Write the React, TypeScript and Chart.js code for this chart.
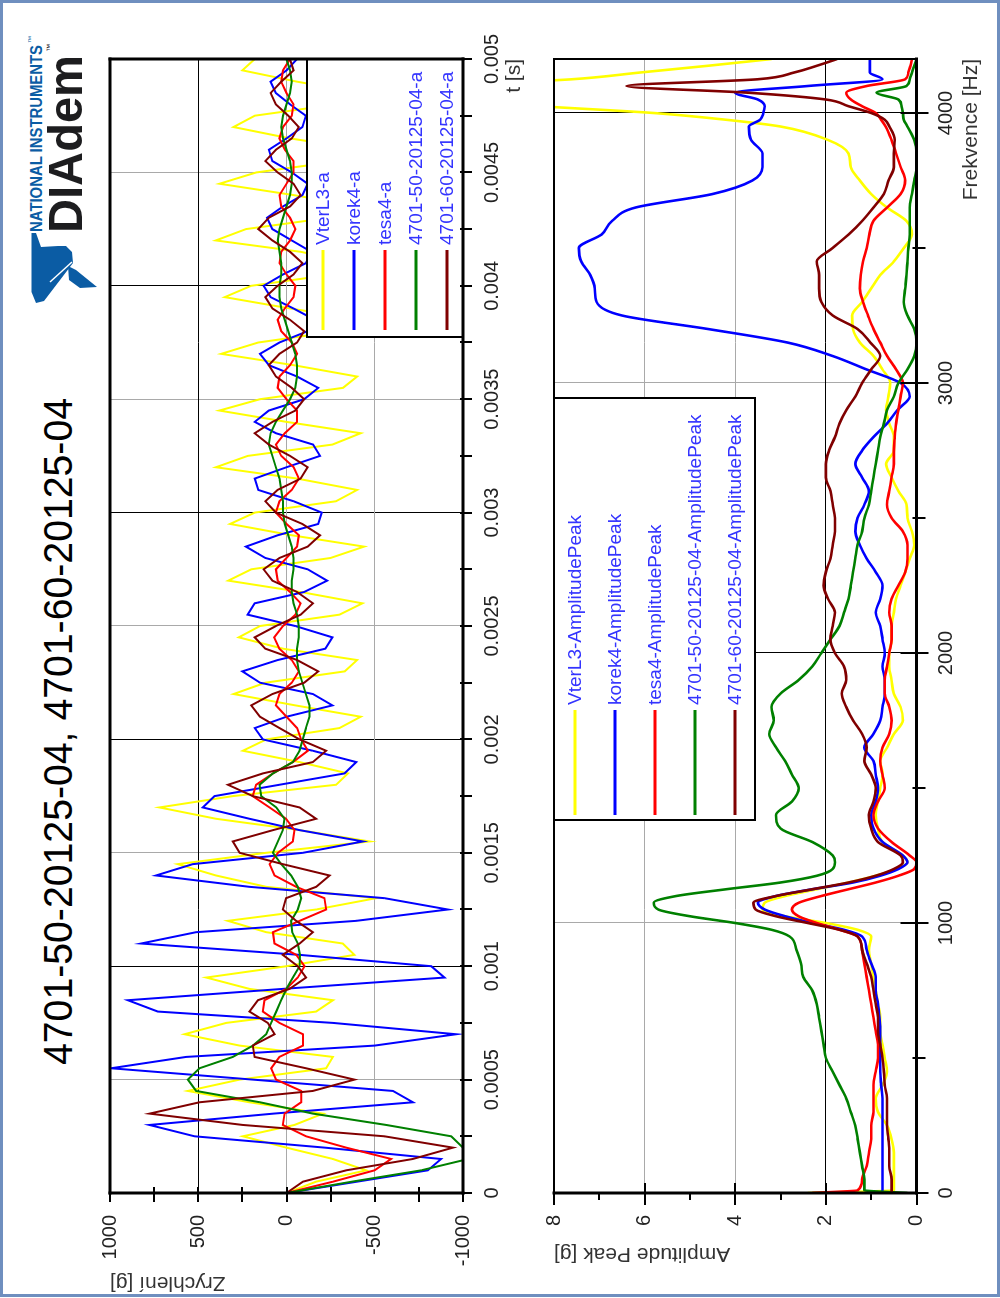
import React, { useEffect, useRef } from 'react';
import { Chart, registerables } from 'chart.js';

Chart.register(...registerables);

const FONT = "'Liberation Sans', Arial, Helvetica, sans-serif";

// ---------------- time signals (upper chart), one value per sample ----------------
const SAMPLE_STEP_S = 0.00005;
const TIME_MAX_S = 0.005;
const TIME_TICK_STEP_S = 0.00025;
const TIME_TICKS_S = Array.from({ length: 21 }, (_, k) => Number((k * TIME_TICK_STEP_S).toFixed(5)));
const ACC_TICKS_G = [-1000, -750, -500, -250, 0, 250, 500, 750, 1000];

const VTERL3_A = [
  0, -168, -451, -263, 0, 247, -45, -206, 210, 559, 266, -225, -263, 266, 578, 342, -168, -263, 210, 455,
  0, -385, -319, 115, 332, -168, -508, 115, 399, 616, 115, -470, -74, 399, 720, 304, -281, -348, -74, 247,
  115, -300, -420, -50, 300, 120, -330, -400, 20, 270, 150, -300, -430, -80, 330, 200, -250, -440, -30, 320,
  180, -280, -400, -60, 400, 220, -260, -420, 0, 380, 150, -320, -400, -40, 370, 160, -290, -430, -20, 350,
  200, -260, -380, -80, 400, 230, -240, -400, -40, 380, 170, -300, -430, -20, 300, 180, -280, -420, -60, 250,
  180,
];
const KOREK4_A = [
  0, -400, -801, -876, -217, 521, 776, 74, -716, -603, 191, 994, 569, -499, -961, -263, 729, 899, 21, -895,
  -820, -74, 824, 512, -395, -914, -555, 210, 739, 531, -93, -433, -74, 210, 474, 408, 40, -329, -395, -149,
  134, 180, 0, -260, -150, 150, 250, 50, -220, -260, -50, 220, 180, -100, -230, -120, 120, 230, 50, -180,
  -200, -40, 160, 180, 0, -190, -150, 60, 180, 100, -100, -180, -60, 100, 150, 40, -120, -160, -40, 90,
  130, 20, -110, -140, -30, 80, 110, 20, -90, -120, -30, 80, 100, 0, -90, -110, -20, 60, 90, 0,
  -60,
];
const TESA4_A = [
  0, -263, -499, -593, -338, -111, 21, 11, -83, -83, 59, 87, 40, -93, -93, 40, 134, 125, 2, -64,
  -102, -55, 68, 77, -74, -225, -215, -55, 68, 96, 49, -36, -45, 2, 96, 191, 172, 77, -36, -121,
  -83, -60, 0, 60, 40, -30, -70, -30, 40, 70, 20, -50, -80, -20, 50, 60, 0, -60, -70, 0,
  60, 40, -30, -70, -40, 30, 60, 10, -60, -60, 0, 50, 40, -20, -60, -30, 30, 50, 10, -40,
  -50, 0, 40, 30, -20, -50, -20, 30, 40, 0, -40, -40, 10, 40, 20, -30, -40, 0, 30, 20,
  -20,
];
const N4701_50_A = [
  0, -370, -763, -1030, -1000, -933, -565, -150, 150, 512, 559, 493, 304, 190, 115, 87, 58, 30, 0, -36,
  -74, -77, -64, -32, -26, -64, -83, -64, -26, 30, 77, 49, 21, 11, 58, 143, 153, 77, -36, -74,
  -92, -110, -130, -130, -110, -90, -70, -60, -60, -70, -70, -60, -40, -30, -30, -40, -40, -30, -10, 10,
  20, 20, 30, 40, 60, 80, 100, 90, 60, 20, -20, -50, -60, -60, -50, -30, -10, 10, 30, 40,
  40, 30, 30, 40, 50, 40, 20, 0, -20, -30, -30, -20, 0, 20, 30, 20, 0, -20, -30, -20,
  0,
];
const N4701_60_A = [
  0, -93, -338, -716, -943, -555, 247, 776, 493, -149, -385, -111, 181, 191, 68, 106, 210, 162, -17, -111,
  -64, 21, -74, -149, -55, 21, 2, -168, -244, 21, 266, 304, 77, -168, -74, 191, 332, 134, -149, -225,
  -74, 40, 150, 200, 80, -100, -180, -60, 120, 180, 60, -80, -150, -60, 80, 130, 40, -120, -190, -90,
  60, 120, 50, -80, -120, -20, 100, 180, 80, -50, -100, -30, 60, 100, 40, -60, -100, -20, 80, 120,
  50, -40, -90, -20, 80, 160, 100, -20, -80, -40, 50, 120, 60, -30, -70, -10, 60, 90, 30, -40,
  -20,
];

// ---------------- amplitude spectra (lower chart) ----------------
const FREQ_MAX_HZ = 4200;
const FREQ_TICKS_HZ = [0, 500, 1000, 1500, 2000, 2500, 3000, 3500, 4000];
const PEAK_TICKS_G = [0, 1, 2, 3, 4, 5, 6, 7, 8];
const FREQ_HZ = [
  0, 10, 50, 100, 150, 200, 250, 300, 350, 400, 450, 500, 550, 600, 650, 700, 750, 800, 850, 900, 950,
  975, 1000, 1025, 1050, 1075, 1100, 1125, 1150, 1175, 1200, 1225, 1250,
  1300, 1350, 1400, 1450, 1500, 1550, 1600, 1650, 1700, 1750,
  1800, 1850, 1900, 1950, 2000, 2050, 2100, 2150, 2200, 2250,
  2300, 2350, 2400, 2450, 2500, 2550, 2600, 2650, 2700, 2750,
  2800, 2850, 2900, 2950, 3000, 3050, 3100, 3150, 3200, 3250,
  3300, 3350, 3400, 3450, 3500, 3550, 3600, 3650, 3700, 3750,
  3800, 3850, 3900, 3950,
  3975, 4000, 4025, 4050, 4075, 4100, 4125, 4150, 4175, 4200,
];
const VTERL3_PEAK = [
  2.4, 0.5, 0.5, 0.5, 0.5, 0.55, 0.65, 0.85, 0.9, 0.75, 0.65, 0.7, 0.75, 0.8, 0.8, 0.85, 0.9, 0.95, 1.0, 1.05, 1.0,
  1.3, 2.0, 2.9, 3.4, 3.35, 2.9, 2.2, 1.5, 0.9, 0.45, 0.2, 0.3,
  0.75, 0.85, 0.9, 0.85, 0.8, 0.75, 0.8, 0.65, 0.5, 0.3,
  0.35, 0.5, 0.55, 0.6, 0.6, 0.55, 0.55, 0.5, 0.45, 0.35,
  0.25, 0.15, 0.05, 0.1, 0.2, 0.22, 0.4, 0.55, 0.67, 0.5,
  0.5, 0.6, 0.67, 0.62, 0.58, 0.75, 0.95, 1.25, 1.4, 1.42,
  1.2, 1.0, 0.8, 0.5, 0.28, 0.1, 0.22, 0.65, 1.0, 1.25,
  1.45, 1.5, 1.95, 3.0,
  4.2, 5.8, 8.3, 10.5, 11.5, 10.5, 7.6, 6.1, 4.6, 3.2,
];
const KOREK4_PEAK = [
  0.8, 0.75, 0.75, 0.75, 0.75, 0.75, 0.75, 0.75, 0.75, 0.78, 0.8, 0.8, 0.8, 0.8, 0.82, 0.85, 0.9, 0.9, 1.0, 1.1, 1.2,
  1.6, 2.3, 2.9, 3.35, 3.5, 3.1, 2.3, 1.4, 0.8, 0.4, 0.2, 0.3,
  0.75, 0.95, 1.0, 0.9, 0.85, 0.9, 0.95, 1.15, 0.95, 0.8,
  0.75, 0.7, 0.7, 0.75, 0.7, 0.75, 0.8, 0.9, 0.8, 0.75,
  0.9, 1.1, 1.25, 1.35, 1.3, 1.15, 1.05, 1.2, 1.35, 1.2,
  0.95, 0.65, 0.42, 0.15, 0.35, 1.1, 1.85, 2.85, 4.6, 6.5,
  7.06, 7.1, 7.2, 7.4, 7.45, 6.95, 6.72, 6.2, 4.5, 3.62,
  3.4, 3.4, 3.65, 3.7,
  3.45, 3.38, 3.35, 3.5, 4.0, 2.4, 0.75, 1.03, 1.03, 1.03,
];
const TESA4_PEAK = [
  2.3, 1.3, 1.2, 1.1, 1.05, 1.0, 1.0, 0.95, 0.95, 0.95, 0.9, 0.85, 0.85, 0.9, 0.95, 1.0, 1.05, 1.1, 1.15, 1.2, 1.3,
  1.7, 2.2, 2.6, 2.75, 2.6, 2.1, 1.5, 0.9, 0.4, 0.05, 0.0, 0.15,
  0.55, 0.85, 0.95, 0.85, 0.7, 0.75, 0.8, 0.75, 0.6, 0.55,
  0.6, 0.7, 0.7, 0.65, 0.6, 0.55, 0.55, 0.6, 0.55, 0.4,
  0.25, 0.2, 0.2, 0.3, 0.55, 0.65, 0.6, 0.55, 0.5, 0.5,
  0.48, 0.45, 0.4, 0.35, 0.3, 0.45, 0.65, 0.8, 0.95, 1.07,
  1.18, 1.25, 1.23, 1.18, 1.1, 1.04, 0.95, 0.65, 0.35, 0.25,
  0.35, 0.45, 0.55, 0.68,
  0.78, 0.9, 1.2, 1.45, 1.55, 1.1, 0.25, 0.18, 0.13, 0.1,
];
const N4701_50_PEAK = [
  0.2, 1.15, 1.15, 1.2, 1.25, 1.3, 1.35, 1.45, 1.55, 1.7, 1.85, 2.0, 2.05, 2.1, 2.15, 2.2, 2.3, 2.5, 2.55, 2.65, 2.8,
  3.2, 4.0, 5.0, 5.7, 5.8, 5.3, 4.2, 3.0, 2.2, 1.85, 1.8, 1.85,
  2.3, 3.0, 3.1, 2.75, 2.6, 2.75, 2.9, 3.1, 3.25, 3.15,
  3.2, 3.0, 2.6, 2.3, 2.1, 1.9, 1.7, 1.6, 1.5, 1.45,
  1.4, 1.35, 1.3, 1.2, 1.15, 1.05, 1.0, 0.95, 0.9, 0.85,
  0.8, 0.72, 0.65, 0.5, 0.4, 0.2, 0.05, 0.0, 0.05, 0.2,
  0.28, 0.25, 0.22, 0.2, 0.18, 0.15, 0.15, 0.15, 0.1, 0.05,
  0.0, 0.0, 0.05, 0.2,
  0.28, 0.3, 0.33, 0.4, 0.88, 0.22, 0.15, 0.1, 0.05, 0.0,
];
const N4701_60_PEAK = [
  0.55, 0.55, 0.55, 0.6, 0.6, 0.62, 0.65, 0.65, 0.65, 0.7, 0.72, 0.75, 0.8, 0.85, 0.85, 0.9, 0.95, 1.0, 1.1, 1.2, 1.3,
  1.7, 2.4, 3.1, 3.55, 3.6, 3.1, 2.3, 1.5, 0.9, 0.5, 0.3, 0.35,
  0.85, 1.0, 1.05, 0.95, 0.9, 1.0, 1.15, 1.1, 1.2, 1.4,
  1.55, 1.65, 1.55, 1.6, 1.8, 1.9, 1.85, 1.8, 1.95, 2.05,
  2.0, 1.9, 1.85, 1.8, 1.8, 1.85, 1.9, 2.0, 2.0, 1.93,
  1.8, 1.7, 1.55, 1.35, 1.2, 1.0, 0.8, 1.02, 1.3, 1.85,
  2.1, 2.15, 2.15, 2.2, 1.85, 1.5, 1.2, 0.95, 0.72, 0.62,
  0.5, 0.5, 0.48, 0.6,
  0.7, 1.0, 1.5, 2.0, 3.7, 6.4, 3.5, 2.7, 2.2, 1.75,
];

const SERIES_COLORS = ['#ffff00', '#0000ff', '#ff0000', '#008000', '#800000'];
const TIME_SERIES_NAMES = ['VterL3-a', 'korek4-a', 'tesa4-a', '4701-50-20125-04-a', '4701-60-20125-04-a'];
const PEAK_SERIES_NAMES = [
  'VterL3-AmplitudePeak',
  'korek4-AmplitudePeak',
  'tesa4-AmplitudePeak',
  '4701-50-20125-04-AmplitudePeak',
  '4701-60-20125-04-AmplitudePeak',
];
const PAGE_TITLE = '4701-50-20125-04, 4701-60-20125-04';

const GRID_BLACK = '#000000';
const GRID_GRAY = '#a9a9a9';
const NONE = 'rgba(0,0,0,0)';
const LEGEND_TEXT = '#3434ff';
const TICK_TEXT = '#222222';

// ---------------- decoration plugin: crossing ticks, frame, legend box ----------------
function makeDecor(o: any) {
  return {
    id: 'decor',
    afterDraw(chart: any) {
      const ctx = chart.ctx;
      const a = chart.chartArea;
      const xs = chart.scales.x;
      const ys = chart.scales.y;
      ctx.save();

      // legend box
      const L = o.legend;
      ctx.fillStyle = '#ffffff';
      ctx.fillRect(L.left, L.top, L.width, L.height);
      ctx.strokeStyle = '#000';
      ctx.lineWidth = 2;
      ctx.strokeRect(L.left, L.top, L.width, L.height);
      ctx.font = `${L.fontSize}px ${FONT}`;
      ctx.textBaseline = 'middle';
      ctx.textAlign = 'left';
      L.labels.forEach((lab: string, i: number) => {
        const y = L.firstRow + i * L.rowStep;
        ctx.strokeStyle = L.colors[i];
        ctx.lineWidth = 3;
        ctx.lineCap = 'butt';
        ctx.beginPath();
        ctx.moveTo(L.lineFrom, y);
        ctx.lineTo(L.lineTo, y);
        ctx.stroke();
        ctx.fillStyle = LEGEND_TEXT;
        ctx.fillText(lab, L.textX, y + 0.5);
      });

      // ticks
      ctx.strokeStyle = '#000';
      ctx.lineWidth = 2;
      ctx.lineCap = 'butt';
      for (const t of xs.ticks) {
        const s = o.xTick(t.value);
        if (!s) continue;
        const p = Math.round(xs.getPixelForValue(t.value));
        ctx.beginPath();
        ctx.moveTo(p, a.bottom - s.inner);
        ctx.lineTo(p, a.bottom + s.outer);
        ctx.stroke();
      }
      for (const t of ys.ticks) {
        const s = o.yTick(t.value);
        if (!s) continue;
        const p = Math.round(ys.getPixelForValue(t.value));
        ctx.beginPath();
        ctx.moveTo(a.left - s.outer, p);
        ctx.lineTo(a.left + s.inner, p);
        ctx.stroke();
      }

      // frame
      const [ft, fr, fb, fl] = o.frame;
      ctx.lineCap = 'square';
      const seg = (w: number, x1: number, y1: number, x2: number, y2: number) => {
        ctx.lineWidth = w;
        ctx.beginPath();
        ctx.moveTo(x1, y1);
        ctx.lineTo(x2, y2);
        ctx.stroke();
      };
      seg(ft, a.left, a.top, a.right, a.top);
      seg(fr, a.right, a.top, a.right, a.bottom);
      seg(fb, a.left, a.bottom, a.right, a.bottom);
      seg(fl, a.left, a.top, a.left, a.bottom);
      ctx.restore();
    },
  };
}

function tickFont(size: number) {
  return { size, family: FONT };
}

function fixedTicks(values: number[]) {
  return (s: any) => {
    s.ticks = values.map((value) => ({ value }));
  };
}

function timeChartConfig(): any {
  const series = [VTERL3_A, KOREK4_A, TESA4_A, N4701_50_A, N4701_60_A];
  return {
    type: 'line',
    data: {
      datasets: series.map((vals, i) => ({
        label: TIME_SERIES_NAMES[i],
        data: vals.map((y, k) => ({ x: k * SAMPLE_STEP_S, y })),
        borderColor: SERIES_COLORS[i],
        backgroundColor: SERIES_COLORS[i],
        borderWidth: 2,
        pointRadius: 0,
        tension: 0,
        fill: false,
        order: series.length - 1 - i,
      })),
    },
    options: {
      animation: false,
      responsive: false,
      devicePixelRatio: 1,
      events: [],
      layout: { padding: { top: 110, right: 59, bottom: 0, left: 0 } },
      plugins: { legend: { display: false }, tooltip: { enabled: false } },
      scales: {
        x: {
          type: 'linear',
          position: 'bottom',
          min: 0,
          max: TIME_MAX_S,
          afterBuildTicks: fixedTicks(TIME_TICKS_S),
          afterFit: (s: any) => {
            s.height = 67;
          },
          border: { display: false },
          grid: {
            drawTicks: false,
            lineWidth: 1,
            color: (c: any) => {
              if (!c.tick) return NONE;
              const k = Math.round(c.tick.value / TIME_TICK_STEP_S);
              if (k <= 0 || k >= 20) return NONE;
              if (k % 4 === 0) return GRID_BLACK;
              if (k % 2 === 0) return GRID_GRAY;
              return NONE;
            },
          },
          ticks: {
            autoSkip: false,
            maxRotation: 0,
            minRotation: 0,
            padding: 17,
            color: TICK_TEXT,
            font: tickFont(20),
            callback: (v: number) => {
              const k = Math.round(v / TIME_TICK_STEP_S);
              if (k % 2 !== 0) return '';
              return String(Number((k * TIME_TICK_STEP_S).toFixed(5)));
            },
          },
          title: {
            display: true,
            text: 't [s]',
            align: 'end',
            color: '#333',
            font: tickFont(21),
            padding: { top: 0, bottom: 3 },
          },
        },
        y: {
          type: 'linear',
          position: 'left',
          min: -1000,
          max: 1000,
          afterBuildTicks: fixedTicks(ACC_TICKS_G),
          afterFit: (s: any) => {
            s.width = 105;
          },
          border: { display: false },
          grid: {
            drawTicks: false,
            lineWidth: 1,
            color: (c: any) => {
              if (!c.tick) return NONE;
              const v = c.tick.value;
              if (v === 500) return GRID_BLACK;
              if (v === 0 || v === -500) return GRID_GRAY;
              return NONE;
            },
          },
          ticks: {
            autoSkip: false,
            padding: 22,
            color: TICK_TEXT,
            font: tickFont(20),
            callback: (v: number) => (v % 500 === 0 ? String(v) : ''),
          },
          title: {
            display: true,
            text: 'Zrychlení [g]',
            align: 'end',
            color: '#333',
            font: tickFont(21),
            padding: { top: 3, bottom: 0 },
          },
        },
      },
    },
    plugins: [
      makeDecor({
        frame: [3, 3, 3, 3],
        xTick: () => ({ inner: 3, outer: 9 }),
        yTick: () => ({ inner: 6, outer: 9 }),
        legend: {
          left: 961,
          top: 307,
          width: 278,
          height: 156,
          lineFrom: 968,
          lineTo: 1048,
          textX: 1053,
          firstRow: 323,
          rowStep: 31,
          fontSize: 19,
          labels: TIME_SERIES_NAMES,
          colors: SERIES_COLORS,
        },
      }),
    ],
  };
}

// lower canvas starts at v = 500 of the (unrotated) page
const BOT_TOP = 500;

function spectrumChartConfig(): any {
  const series = [VTERL3_PEAK, KOREK4_PEAK, TESA4_PEAK, N4701_50_PEAK, N4701_60_PEAK];
  const areaTop = 554 - BOT_TOP;
  return {
    type: 'line',
    data: {
      datasets: series.map((vals, i) => ({
        label: PEAK_SERIES_NAMES[i],
        data: FREQ_HZ.map((f, k) => ({ x: f, y: vals[k] })),
        borderColor: SERIES_COLORS[i],
        backgroundColor: SERIES_COLORS[i],
        borderWidth: 2.6,
        pointRadius: 0,
        cubicInterpolationMode: 'monotone',
        fill: false,
        order: series.length - 1 - i,
      })),
    },
    options: {
      animation: false,
      responsive: false,
      devicePixelRatio: 1,
      events: [],
      layout: { padding: { top: areaTop, right: 59, bottom: 0, left: 0 } },
      plugins: { legend: { display: false }, tooltip: { enabled: false } },
      scales: {
        x: {
          type: 'linear',
          position: 'bottom',
          min: 0,
          max: FREQ_MAX_HZ,
          afterBuildTicks: fixedTicks(FREQ_TICKS_HZ),
          afterFit: (s: any) => {
            s.height = 83.5;
          },
          border: { display: false },
          grid: {
            drawTicks: false,
            lineWidth: 1,
            color: (c: any) => {
              if (!c.tick) return NONE;
              const v = c.tick.value;
              if (v === 2000 || v === 4000) return GRID_BLACK;
              if (v === 1000 || v === 3000) return GRID_GRAY;
              return NONE;
            },
          },
          ticks: {
            autoSkip: false,
            maxRotation: 0,
            minRotation: 0,
            padding: 18,
            color: TICK_TEXT,
            font: tickFont(20),
            callback: (v: number) => (v % 1000 === 0 ? String(v) : ''),
          },
          title: {
            display: true,
            text: 'Frekvence [Hz]',
            align: 'end',
            color: '#333',
            font: tickFont(21),
            padding: { top: 0, bottom: 16 },
          },
        },
        y: {
          type: 'linear',
          position: 'left',
          min: 0,
          max: 8,
          afterBuildTicks: fixedTicks(PEAK_TICKS_G),
          afterFit: (s: any) => {
            s.width = 105;
          },
          border: { display: false },
          grid: {
            drawTicks: false,
            lineWidth: 1,
            color: (c: any) => {
              if (!c.tick) return NONE;
              const v = c.tick.value;
              if (v === 2) return GRID_BLACK;
              if (v === 4 || v === 6) return GRID_GRAY;
              return NONE;
            },
          },
          ticks: {
            autoSkip: false,
            padding: 22,
            color: TICK_TEXT,
            font: tickFont(20),
            callback: (v: number) => (v % 2 === 0 ? String(v) : ''),
          },
          title: {
            display: true,
            text: 'Amplitude Peak [g]',
            align: 'end',
            color: '#333',
            font: tickFont(21),
            padding: { top: 32, bottom: 0 },
          },
        },
      },
    },
    plugins: [
      makeDecor({
        frame: [2, 2, 3, 3],
        xTick: (v: number) =>
          v % 1000 === 0 ? { inner: 16, outer: 12 } : v % 500 === 0 ? { inner: 4, outer: 9 } : null,
        yTick: (v: number) => (v % 2 === 0 ? { inner: 10, outer: 12 } : { inner: 0, outer: 7 }),
        legend: {
          left: 478,
          top: areaTop,
          width: 422,
          height: 201,
          lineFrom: 483,
          lineTo: 588,
          textX: 593,
          firstRow: areaTop + 21,
          rowStep: 40,
          fontSize: 19,
          labels: PEAK_SERIES_NAMES,
          colors: SERIES_COLORS,
        },
      }),
    ],
  };
}

export default function App() {
  const topRef = useRef<HTMLCanvasElement>(null);
  const botRef = useRef<HTMLCanvasElement>(null);

  useEffect(() => {
    const charts: any[] = [];
    if (topRef.current) charts.push(new Chart(topRef.current, timeChartConfig()));
    if (botRef.current) charts.push(new Chart(botRef.current, spectrumChartConfig()));
    return () => {
      charts.forEach((c) => c.destroy());
    };
  }, []);

  const niBlue = '#0b5ca4';

  return (
    <div
      style={{
        position: 'absolute',
        left: 0,
        top: 0,
        width: 1000,
        height: 1298,
        overflow: 'hidden',
        background: '#ffffff',
      }}
    >
      <div
        style={{
          position: 'absolute',
          left: 0,
          top: 0,
          width: 1000,
          height: 1297,
          boxSizing: 'border-box',
          border: '3px solid #6f8fbf',
        }}
      />
      <svg width={1000} height={1298} style={{ position: 'absolute', left: 0, top: 0 }}>
        <polygon
          points="31.5,233 36,233 41,247 58,246 66,246 72,252 73,263 44,301 36,303 31.5,292"
          fill={niBlue}
        />
        <polygon points="68,266 76,270 97,287 80,288 69,280" fill={niBlue} />
        <line x1="50" y1="282" x2="72" y2="262" stroke="#ffffff" strokeWidth="1.5" />
      </svg>
      <div
        style={{
          position: 'absolute',
          left: 0,
          top: 0,
          width: 1298,
          height: 1000,
          transformOrigin: '0 0',
          transform: 'translate(0px, 1298px) rotate(-90deg)',
        }}
      >
        <svg width={1298} height={1000} style={{ position: 'absolute', left: 0, top: 0 }}>
          <text
            x={233}
            y={72}
            fontSize={40}
            fontFamily={FONT}
            textLength={667}
            lengthAdjust="spacingAndGlyphs"
            fill="#000"
          >
            {PAGE_TITLE}
          </text>
          <text
            x={1066}
            y={42}
            fontSize={16.5}
            fontWeight="bold"
            fontFamily={FONT}
            textLength={187}
            lengthAdjust="spacingAndGlyphs"
            fill={niBlue}
          >
            NATIONAL INSTRUMENTS
          </text>
          <text x={1255} y={33} fontSize={7} fontFamily={FONT} fill={niBlue}>
            ™
          </text>
          <text
            x={1065}
            y={82}
            fontSize={49}
            fontWeight="bold"
            fontFamily={FONT}
            textLength={178}
            lengthAdjust="spacingAndGlyphs"
            fill="#1d1d1f"
          >
            DIAdem
          </text>
          <text x={1246} y={52} fontSize={8} fontFamily={FONT} fill="#1d1d1f">
            ™
          </text>
        </svg>
        <canvas ref={topRef} width={1298} height={530} style={{ position: 'absolute', left: 0, top: 0 }} />
        <canvas
          ref={botRef}
          width={1298}
          height={1000 - BOT_TOP}
          style={{ position: 'absolute', left: 0, top: BOT_TOP }}
        />
      </div>
    </div>
  );
}
